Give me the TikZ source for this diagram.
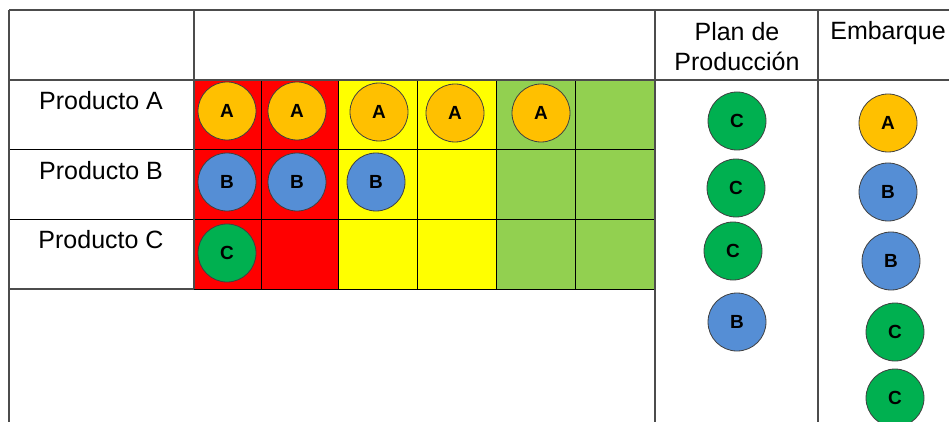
\documentclass[tikz,border=0pt]{standalone}
\usepackage{fontspec}
\setmainfont{Liberation Sans}
\usepackage{xcolor}
\usetikzlibrary{positioning}
\definecolor{cellred}{HTML}{FF0000}
\definecolor{cellyellow}{HTML}{FFFF00}
\definecolor{cellgreen}{HTML}{92D050}
\definecolor{unitA}{HTML}{FFC000}
\definecolor{unitB}{HTML}{558ED5}
\definecolor{unitC}{HTML}{00B050}
\colorlet{tableline}{black!70}
\tikzset{
  table line/.style={tableline,line width=1.3pt},
  cell line/.style={black,line width=1pt},
  unit/.style={circle,draw=black!75,line width=0.8pt,minimum size=58pt,inner sep=0pt,
    font=\fontsize{19}{19}\selectfont\bfseries},
  unit A/.style={unit,fill=unitA},
  unit B/.style={unit,fill=unitB},
  unit C/.style={unit,fill=unitC},
  head/.style={font=\fontsize{25}{30}\selectfont,align=center,inner sep=0pt},
  row label/.style={font=\fontsize{25}{30}\selectfont,anchor=base,inner sep=0pt}
}

\begin{document}
\begin{tikzpicture}[x=1pt,y=-1pt]
  \useasboundingbox (0,0) rectangle (949,422);

  % Colour bands
  \fill[cellred] (194,80) rectangle (338,289);
  \fill[cellyellow] (338,80) rectangle (496,289);
  \fill[cellgreen] (496,80) rectangle (655,289);

  % Cell grid
  \foreach \x in {261,338,417,496,575}
    \draw[cell line] (\x,80) -- (\x,289);
  \foreach \y in {150,219}
    \draw[cell line] (9,\y) -- (655,\y);
  \draw[cell line] (194,289) -- (655,289);

  % Table frame
  \draw[table line] (9,10) -- (949,10);
  \draw[table line] (9,80) -- (949,80);
  \draw[table line] (9,289) -- (194,289);
  \draw[table line] (9,10) -- (9,422);
  \draw[table line] (194,10) -- (194,289);
  \draw[table line] (655,10) -- (655,422);
  \draw[table line] (818,10) -- (818,422);

  % Headers
  \node[head] (plan) at (737,47) {Plan de\\Producción};
  \node[head,anchor=base] (emb) at (888,40) {Embarque};

  % Row labels
  \node[row label] (prodA) at (101,110) {Producto A};
  \node[row label] (prodB) at (101,179) {Producto B};
  \node[row label] (prodC) at (101,248) {Producto C};

  % Producto A
  \node[unit A] (a1) at (227,111) {A};
  \node[unit A] (a2) at (297,111) {A};
  \node[unit A] (a3) at (379,112) {A};
  \node[unit A] (a4) at (455,113) {A};
  \node[unit A] (a5) at (541,113) {A};

  % Producto B
  \node[unit B] (b1) at (227,182) {B};
  \node[unit B] (b2) at (297,182) {B};
  \node[unit B] (b3) at (376,182) {B};

  % Producto C
  \node[unit C] (c1) at (227,253) {C};

  % Plan de Produccion
  \node[unit C] (plan1) at (737,121) {C};
  \node[unit C] (plan2) at (736,188) {C};
  \node[unit C] (plan3) at (733,251) {C};
  \node[unit B] (plan4) at (737,322) {B};

  % Embarque
  \node[unit A] (emb1) at (888,123) {A};
  \node[unit B] (emb2) at (888,192) {B};
  \node[unit B] (emb3) at (891,261) {B};
  \node[unit C] (emb4) at (895,332) {C};
  \node[unit C] (emb5) at (895,398) {C};

\end{tikzpicture}
\end{document}
